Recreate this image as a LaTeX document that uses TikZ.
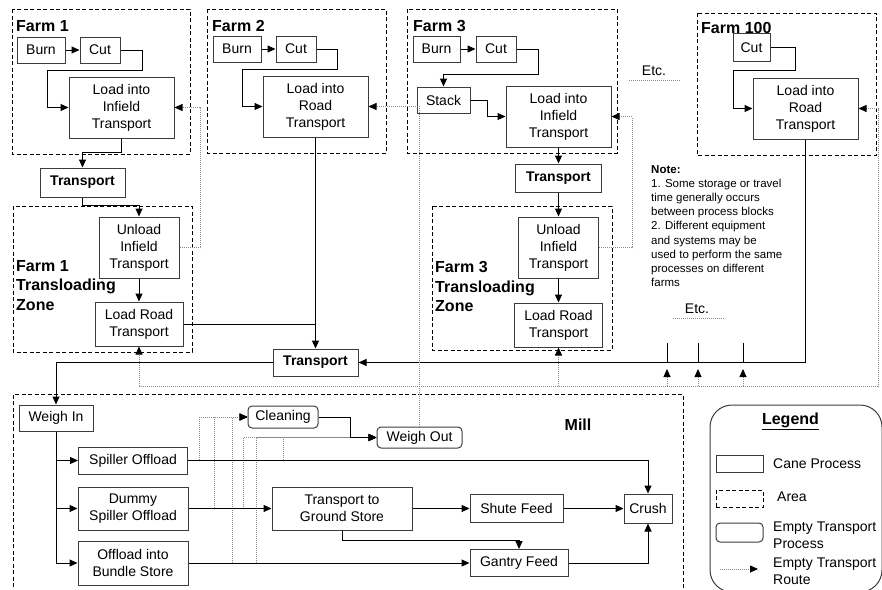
\documentclass[tikz,border=0pt]{standalone}
\usepackage{fontspec}
\setmainfont{Liberation Sans}
\usetikzlibrary{arrows.meta}
\definecolor{boxline}{HTML}{3C3C3C}
\definecolor{routegray}{HTML}{8A8A8A}
\tikzset{
  wh/.style 2 args={minimum width=#1pt, minimum height=#2pt},
  proc/.style={draw=boxline, line width=1pt, fill=white, inner sep=0pt, align=center, font=\fontsize{14}{17}\selectfont},
  tproc/.style={proc, font=\fontsize{14}{17}\selectfont\bfseries},
  eproc/.style={proc, rounded corners=4pt},
  area/.style={draw=black, line width=0.9pt, dash pattern=on 4pt off 2.5pt},
  flow/.style={line width=1pt, -{Triangle[length=8pt,width=7pt]}},
  feed/.style={line width=1pt},
  empty/.style={routegray, line width=0.8pt, dash pattern=on 1pt off 1pt, -{Triangle[length=8pt,width=7pt,color=black]}},
  lbl/.style={inner sep=0pt, font=\fontsize{16}{19.5}\selectfont\bfseries},
  txt/.style={inner sep=0pt, font=\fontsize{14}{17}\selectfont},
}

\begin{document}
\begin{tikzpicture}[x=1pt,y=-1pt]
  \useasboundingbox (0,0) rectangle (882,589);

  % areas
  \draw[area] (12,9) rectangle (190,154);
  \draw[area] (207,9) rectangle (386,153);
  \draw[area] (407,9) rectangle (617,153);
  \draw[area] (697,13) rectangle (876,155);
  \draw[area] (13,206) rectangle (192,352);
  \draw[area] (432,206) rectangle (612,350);
  \draw[area] (13,600) -- (13,394) -- (683,394) -- (683,600);

  \node[lbl, anchor=base west] (fa1name) at (16,31.5) {Farm 1};
  \node[lbl, anchor=base west] (fa2name) at (212,31.5) {Farm 2};
  \node[lbl, anchor=base west] (fa3name) at (413,31.5) {Farm 3};
  \node[lbl, anchor=base west] (fa100name) at (701,33.5) {Farm 100};
  \node[lbl, anchor=west, align=left] (zone1name) at (16,285.5) {Farm 1\\Transloading\\Zone};
  \node[lbl, anchor=west, align=left] (zone3name) at (435,286.5) {Farm 3\\Transloading\\Zone};
  \node[lbl] (millname) at (578,425) {Mill};

  % farm 1
  \node[proc, wh={48}{26}] (fa1burn) at (41,50) {Burn};
  \node[proc, wh={40}{26}] (fa1cut) at (100,50) {Cut};
  \node[proc, wh={105}{61}] (fa1load) at (121.5,107.5) {Load into\\Infield\\Transport};
  \node[tproc, wh={85}{29}] (fa1trans) at (82.5,182.5) {Transport};
  \node[proc, wh={80}{61}] (fa1unload) at (139,247.5) {Unload\\Infield\\Transport};
  \node[proc, wh={88}{44}] (fa1road) at (139,324) {Load Road\\Transport};

  % farm 2
  \node[proc, wh={48}{26}] (fa2burn) at (237,49) {Burn};
  \node[proc, wh={40}{26}] (fa2cut) at (296,49) {Cut};
  \node[proc, wh={105}{61}] (fa2load) at (315.5,106.5) {Load into\\Road\\Transport};

  % farm 3
  \node[proc, wh={47}{26}] (fa3burn) at (436.5,49) {Burn};
  \node[proc, wh={40}{26}] (fa3cut) at (496,49) {Cut};
  \node[proc, wh={53}{26}] (fa3stack) at (443.5,100) {Stack};
  \node[proc, wh={105}{61}] (fa3load) at (558.5,116.5) {Load into\\Infield\\Transport};
  \node[tproc, wh={86}{28}] (fa3trans) at (558.5,178) {Transport};
  \node[proc, wh={80}{61}] (fa3unload) at (558.5,247.5) {Unload\\Infield\\Transport};
  \node[proc, wh={88}{44}] (fa3road) at (558.5,325) {Load Road\\Transport};

  % farm 100
  \node[proc, wh={37}{28}] (fa100cut) at (751.5,47.5) {Cut};
  \node[proc, wh={105}{61}] (fa100load) at (805.5,108.5) {Load into\\Road\\Transport};

  \node[tproc, wh={85}{27}] (road) at (315.5,362.5) {Transport};

  % mill
  \node[proc, wh={74}{26}] (weighin) at (56,418) {Weigh In};
  \node[proc, wh={109}{27}] (spiller) at (133,460.5) {Spiller Offload};
  \node[proc, wh={110}{43}] (dummy) at (133,508.5) {Dummy\\Spiller Offload};
  \node[proc, wh={110}{44}] (bundle) at (133,563) {Offload into\\Bundle Store};
  \node[eproc, wh={70}{22}] (cleaning) at (283,417) {Cleaning};
  \node[eproc, wh={85}{21}] (weighout) at (419.5,437.5) {Weigh Out};
  \node[proc, wh={140}{43}] (tgs) at (342,508.5) {Transport to\\Ground Store};
  \node[proc, wh={93}{28}] (shute) at (516.5,508.5) {Shute Feed};
  \node[proc, wh={48}{29}] (crush) at (648,508.5) {Crush};
  \node[proc, wh={98}{27}] (gantry) at (519,563) {Gantry Feed};

  % cane flow
  \draw[flow] (fa1burn) -- (fa1cut);
  \draw[flow] (fa1cut.east) -| (142,70) -- (47,70) |- (fa1load.west);
  \draw[flow] (fa1load.south) -- ++(0,14) -| (fa1trans.north);
  \draw[flow] (fa1trans.south) -- ++(0,8) -| (fa1unload.north);
  \draw[flow] (fa1unload) -- (fa1road);
  \draw[feed] (fa1road.east) -- (fa1road.east -| fa2load.south);

  \draw[flow] (fa2burn) -- (fa2cut);
  \draw[flow] (fa2cut.east) -| (337,69) -- (242,69) |- (fa2load.west);
  \draw[flow] (fa2load.south) -- (road.north);

  \draw[flow] (fa3burn) -- (fa3cut);
  \draw[flow] (fa3cut.east) -| (538,74) -| (fa3stack.north);
  \draw[flow] (fa3stack.east) -| (487,116.5) -- (fa3load.west);
  \draw[flow] (fa3load) -- (fa3trans);
  \draw[flow] (fa3trans) -- (fa3unload);
  \draw[flow] (fa3unload) -- (fa3road);

  \draw[flow] (fa100cut.east) -| (795,70) -- (733,70) |- (fa100load.west);
  \draw[flow] (fa100load.south) |- (road.east);
  \foreach \x in {667,698,743}{
    \draw[feed] (\x,343) -- (\x,362.5);
    \draw[empty] (\x,386) -- (\x,369);
  }

  \draw[flow] (road.west) -| (weighin.north);

  % empty transport
  \coordinate (retL) at (0,386);
  \coordinate (retR) at (878,386);
  \draw[empty] (fa1unload.east) -- ++(21,0) |- (fa1load.east);
  \draw[empty] (fa3unload.east) -- ++(33,0) |- (fa3load.east);
  \draw[empty] (weighout.north) |- (fa2load.east);
  \draw[empty] (fa1road.south |- retL) -- (retR) |- (fa100load.east);
  \draw[empty] (fa1road.south |- retL) -- (fa1road.south);
  \draw[empty] (fa3road.south |- retL) -- (fa3road.south);
  \foreach \n/\xa/\xb in {spiller/199/283,dummy/214/243,bundle/232/256}{
    \draw[empty] (\n.east) -| (\xa,417) -- (cleaning.west);
    \draw[empty] (\n.east) -| (\xb,437.5) -- (weighout.west);
  }

  % mill flow
  \foreach \n in {spiller,dummy,bundle}
    \draw[flow] (weighin.south) |- (\n.west);
  \draw[flow] (spiller.east) -| (crush.north);
  \draw[flow] (dummy) -- (tgs);
  \draw[flow] (tgs) -- (shute);
  \draw[flow] (shute) -- (crush);
  \draw[flow] (tgs.south) -- ++(0,10) -| (gantry.north);
  \draw[flow] (bundle) -- (gantry);
  \draw[flow] (gantry.east) -| (crush.south);
  \draw[flow] (cleaning.east) -- ++(32,0) |- (weighout.west);

  % notes
  \node[inner sep=0pt, anchor=west, align=left, font=\fontsize{11.5}{14.2}\selectfont] (note) at (651,226)
    {\textbf{Note:}\\1. Some storage or travel\\time generally occurs\\between process blocks\\2. Different equipment\\and systems may be\\used to perform the same\\processes on different\\farms};
  \node[txt] (etc1) at (654,71) {Etc.};
  \draw[routegray, dash pattern=on 1pt off 1pt] (629,80) -- (680,80);
  \node[txt] (etc2) at (697,309) {Etc.};
  \draw[routegray, dash pattern=on 1pt off 1pt] (673,318) -- (724,318);

  % legend
  \draw[boxline, line width=1pt, rounded corners=22pt] (710,405) rectangle (882,592);
  \node[lbl] (legtitle) at (790.5,421.5) {\underline{Legend}};
  \node[proc, wh={47}{17}] (legcane) at (739.5,463.5) {};
  \node[txt, anchor=west] (legcanetext) at (773,464) {Cane Process};
  \node[area, wh={47}{17}, inner sep=0pt] (legarea) at (739.5,498.5) {};
  \node[txt, anchor=west] (legareatext) at (777,497) {Area};
  \node[eproc, wh={47}{19}] (legempty) at (739.5,532.5) {};
  \node[txt, anchor=west, align=left] (legemptytext) at (773,535.5) {Empty Transport\\Process};
  \coordinate (legrouteA) at (720,569);
  \coordinate (legrouteB) at (758,569);
  \draw[empty] (legrouteA) -- (legrouteB);
  \node[txt, anchor=west, align=left] (legroutetext) at (773,571.5) {Empty Transport\\Route};
\end{tikzpicture}
\end{document}
